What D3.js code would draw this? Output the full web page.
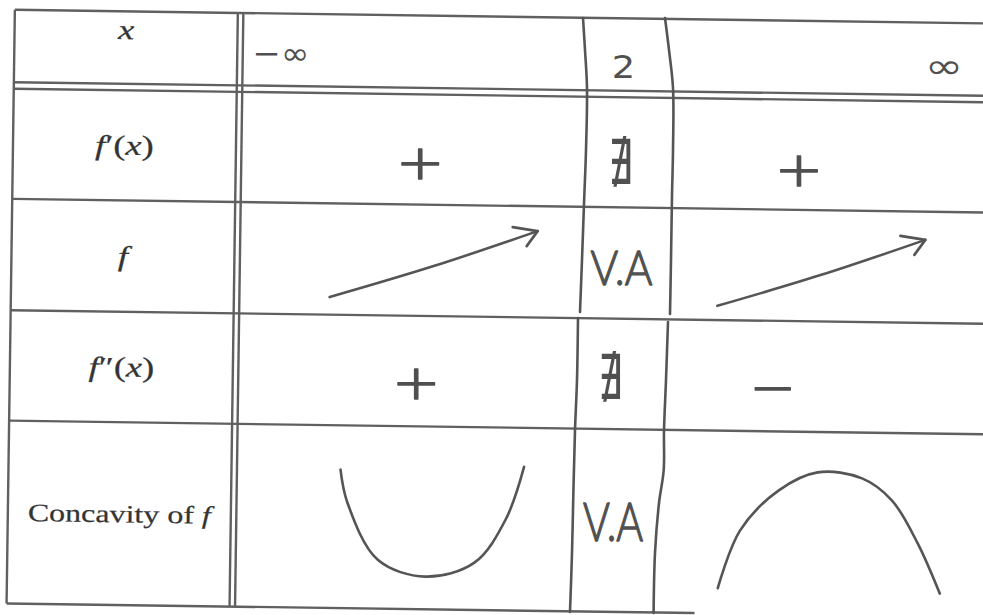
<!DOCTYPE html>
<html>
<head>
<meta charset="utf-8">
<script src="https://cdn.jsdelivr.net/npm/d3@7"></script>
<style>
body { margin: 0; background: #fff; }
svg { display: block; }
.label { font-family: "Liberation Serif", "DejaVu Serif", serif; fill: #333; stroke: #444; stroke-width: 0.25; }
.hand { font-family: "Lato", "DejaVu Sans", sans-serif; font-weight: 300; fill: #505050; stroke: #505050; stroke-width: 1.3; stroke-linejoin: round; }
.handsym { font-family: "DejaVu Sans", sans-serif; fill: #505050; }
.rule { stroke: #606060; stroke-width: 2.4; fill: none; }
.pen { stroke: #555; stroke-width: 2.6; fill: none; stroke-linecap: round; stroke-linejoin: round; }
</style>
</head>
<body>
<script>
// sign table for f
var rowLabels = ["x", "f′(x)", "f", "f″(x)", "Concavity of f"];
var xValues = ["−∞", "2", "∞"];
var fPrimeSign = ["+", "∄", "+"];
var fBehaviour = ["increasing", "V.A", "increasing"];
var fSecondSign = ["+", "∄", "−"];
var concavity = ["up", "V.A", "down"];

var width = 983, height = 615;

// the scanned sheet is turned a little clockwise
var tilt = 0.8;
var rad = tilt * Math.PI / 180;
function toScreen(p) {
	return [p[0] * Math.cos(rad) - p[1] * Math.sin(rad),
			p[0] * Math.sin(rad) + p[1] * Math.cos(rad)];
}

// column edges: border | double rule | -inf..2 | 2 | 2..inf
var colX = d3.scaleLinear().domain([0, 1, 2, 3, 4]).range([15, 240.75, 585, 669, 983]);
// row edges: top | header (double rule) | f' | f | f'' | concavity bottom
var rowY = d3.scaleLinear().domain([0, 1, 2, 3, 4, 5]).range([9.6, 85.25, 198.7, 310, 420.5, 603.3]);
var gapV = 2.75, gapH = 3.25;

var svg = d3.select("body")
			.append("svg")
			.attr("width", width)
			.attr("height", height);

svg.append("rect").attr("width", width).attr("height", height).attr("fill", "#fff");

var table = svg.append("g").attr("transform", "rotate(" + tilt + ")");

// printed horizontal rules
var hRules = [rowY(0), rowY(1) - gapH, rowY(1) + gapH, rowY(2), rowY(3), rowY(4)];
hRules.forEach(function(y) {
	table.append("line").attr("class", "rule")
		.attr("x1", colX(0)).attr("x2", width + 30)
		.attr("y1", y).attr("y2", y);
});
table.append("line").attr("class", "rule")
	.attr("x1", colX(0)).attr("x2", 703)
	.attr("y1", rowY(5)).attr("y2", rowY(5));

// printed vertical rules
[colX(0), colX(1) - gapV, colX(1) + gapV].forEach(function(x) {
	table.append("line").attr("class", "rule")
		.attr("x1", x).attr("x2", x)
		.attr("y1", rowY(0)).attr("y2", rowY(5));
});

// row labels, math letters in italics
function labelParts(s) {
	if (s.indexOf(" ") >= 0) {
		var k = s.lastIndexOf(" ") + 1;
		return [{t: s.slice(0, k), i: false}, {t: s.slice(k), i: true}];
	}
	return s.split("").map(function(ch) { return {t: ch, i: /[a-z]/.test(ch)}; });
}

rowLabels.forEach(function(lab, r) {
	var y = r === 0 ? rowY(0) + 0.24 * (rowY(1) - rowY(0))
					: (rowY(r) + (r === 1 ? gapH : 0) + rowY(r + 1)) / 2;
	var x = (colX(0) + colX(1) - gapV) / 2;
	var t = table.append("text")
		.attr("class", "label")
		.attr("text-anchor", "middle")
		.attr("dominant-baseline", "central")
		.attr("font-size", r === 4 ? 25 : 28)
		.attr("transform", "translate(" + x + "," + y + ") scale(" + (r === 4 ? 1.28 : 1.3) + ",1)");
	labelParts(lab).forEach(function(p) {
		t.append("tspan").text(p.t).attr("font-style", p.i ? "italic" : "normal");
	});
});

// hand-ruled lines round x = 2 (screen y, x offset from column edge)
var handLeft = [
	[[18, -2], [50, 0], [88, 2], [150, 1], [204, -1], [260, -3], [312, -5]],
	[[318, -7], [380, -8], [430, -10], [487, -11.5], [553, -13], [612, -15]]
];
var handRight = [
	[[18, -4], [50, 0], [88, 4], [150, 4], [196, 3], [260, 2], [314, 1]],
	[[322, -1], [380, -3], [431, -5], [470, -5.3], [503, -10], [553, -14], [613, -15.4]]
];

var pen = d3.line().curve(d3.curveCatmullRom);

function drawHand(strokes, base) {
	strokes.forEach(function(s) {
		svg.append("path").attr("class", "pen")
			.attr("stroke-width", 2.2)
			.attr("d", pen(s.map(function(p) { return [base + p[1], p[0]]; })));
	});
}
drawHand(handLeft, colX(2));
drawHand(handRight, colX(3));

function lineAt(strokes, base) {
	var pts = [].concat.apply([], strokes);
	return d3.scaleLinear().clamp(true)
		.domain(pts.map(function(p) { return p[0]; }))
		.range(pts.map(function(p) { return base + p[1]; }));
}
var leftAt = lineAt(handLeft, colX(2)), rightAt = lineAt(handRight, colX(3));

// centre of a cell in screen space, r = table row 0..4, c = column 0..2
function cellCenter(r, c) {
	var y0 = rowY(r) + (r === 1 ? gapH : 0);
	var y1 = rowY(r + 1) - (r === 0 ? gapH : 0);
	var ym = (y0 + y1) / 2;
	if (c === 1) {
		var ys = toScreen([colX(2.5), ym])[1];
		return [(leftAt(ys) + rightAt(ys)) / 2, ys];
	}
	var x0 = c === 0 ? colX(1) + gapV : colX(3);
	var x1 = c === 0 ? colX(2) : colX(4);
	return toScreen([(x0 + x1) / 2, ym]);
}

// where the pen actually landed inside each cell
var nudge = [
	[[0, 2], [-4, 12], [-1, 9]],
	[[8, 14], [-9, 11], [-25, 15]],
	[[23, 4], [-5, 3], [-1, 7]],
	[[7, 12], [-11.5, 4], [-48, 11]],
	[[25, 3], [-2, 0.5], [10, 9]]
];
function spot(r, c) {
	var p = cellCenter(r, c);
	return [p[0] + nudge[r][c][0], p[1] + nudge[r][c][1]];
}

var glyphStyle = {
	"+": {cls: "hand", size: 62, sx: 1.25, sy: 1, dy: -3},
	"−": {cls: "hand", size: 62, sx: 1.35, sy: 1, dy: -3},
	"∄": {cls: "handsym", size: 54, sx: 0.72, sy: 1.15, dy: -1}
};

function handText(txt, p, size, sx, sy, anchor, cls) {
	svg.append("text")
		.attr("class", cls || "hand")
		.attr("text-anchor", anchor || "middle")
		.attr("dominant-baseline", "central")
		.attr("font-size", size)
		.attr("transform", "translate(" + p[0] + "," + p[1] + ") scale(" + sx + "," + sy + ")")
		.text(txt);
}

// header values
var p0 = spot(0, 0);
handText(xValues[0], [toScreen([colX(1) + gapV + 9, 0])[0], p0[1]], 34, 1, 0.9, "start", "handsym");
handText(xValues[1], spot(0, 1), 32, 1.15, 1, "middle", "handsym");
var p2 = spot(0, 2);
handText(xValues[2], [toScreen([965, p2[1]])[0] + nudge[0][2][0], p2[1]], 46, 1, 0.75, "end", "handsym");

// sign rows
[[1, fPrimeSign], [3, fSecondSign]].forEach(function(row) {
	row[1].forEach(function(s, c) {
		var g = glyphStyle[s];
		var p = spot(row[0], c);
		handText(s, [p[0], p[1] + g.dy], g.size, g.sx, g.sy, "middle", g.cls);
	});
});

// variation of f
fBehaviour.forEach(function(b, c) {
	var p = spot(2, c);
	if (b === "V.A") {
		handText(b, p, 48, 0.88, 1, "middle", "hand");
		return;
	}
	var hw = 104, hh = 33;
	var tip = [p[0] + hw, p[1] - hh];
	svg.append("path").attr("class", "pen")
		.attr("d", pen([[p[0] - hw, p[1] + hh], [p[0], p[1] + 2], tip]));
	svg.append("path").attr("class", "pen")
		.attr("d", d3.line()([[tip[0] - 25, tip[1] - 4], tip, [tip[0] - 11, tip[1] + 15]]));
});

// concavity sketches
var bowl = {
	up: {hw: 92, hh: 56, pts: [[-0.995, -0.91], [-0.92, -0.32], [-0.59, 0.7], [-0.07, 1.0], [0.46, 0.75], [0.8, -0.02], [1.0, -0.96]]},
	down: {hw: 111, hh: 60, pts: [[-1.0, 0.93], [-0.8, -0.03], [-0.45, -0.7], [-0.1, -1.0], [0.3, -0.9], [0.57, -0.53], [0.8, 0.18], [1.0, 1.02]]}
};
concavity.forEach(function(k, c) {
	var p = spot(4, c);
	if (k === "V.A") {
		handText(k, p, 50, 0.82, 1.05, "middle", "hand");
		return;
	}
	var b = bowl[k];
	svg.append("path").attr("class", "pen")
		.attr("stroke-width", 2.3)
		.attr("d", pen(b.pts.map(function(q) { return [p[0] + q[0] * b.hw, p[1] + q[1] * b.hh]; })));
});
</script>
</body>
</html>
